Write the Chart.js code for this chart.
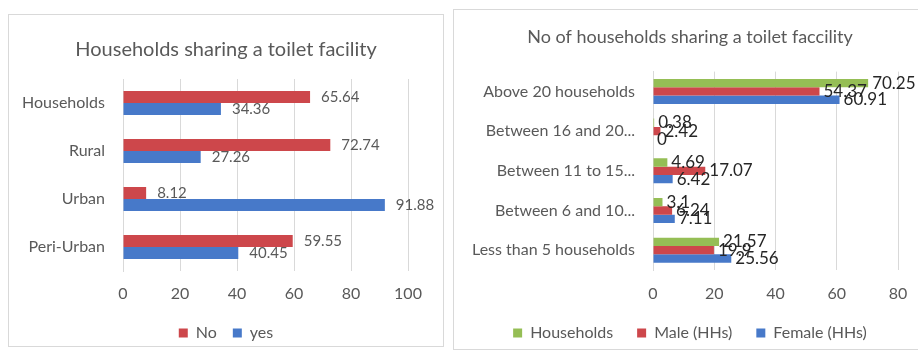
<!DOCTYPE html>
<html>
<head>
<meta charset="utf-8">
<script src="https://cdn.jsdelivr.net/npm/chart.js@4.4.1/dist/chart.umd.min.js"></script>
<style>
  body { margin: 0; background: #fff; width: 918px; height: 357px; overflow: hidden; position: relative; }
  .frame { position: absolute; border: 1px solid #d9d9d9; box-sizing: border-box; }
  canvas { position: absolute; }
  #frameLeft { left: 8px; top: 14px; width: 436px; height: 333px; }
  #frameRight { left: 453px; top: 9px; width: 472px; height: 341px; }
  #sharingChart { left: 8px; top: 14px; }
  #sizeChart { left: 453px; top: 9px; }
</style>
</head>
<body>
<div class="frame" id="frameLeft"></div>
<div class="frame" id="frameRight"></div>
<canvas id="sharingChart" width="436" height="337"></canvas>
<canvas id="sizeChart" width="474" height="342"></canvas>

<script>
// --- households sharing a toilet (%) ---
const sharingCategories = ['Households', 'Rural', 'Urban', 'Peri-Urban'];
const sharingNo = [65.64, 72.74, 8.12, 59.55];
const sharingYes = [34.36, 27.26, 91.88, 40.45];
const sharingTicks = [0, 20, 40, 60, 80, 100];

// --- number of households sharing one toilet ---
const sizeCategories = ['Above 20 households', 'Between 16 and 20...', 'Between 11 to 15...', 'Between 6 and 10...', 'Less than 5 households'];
const sizeHouseholds = [70.25, 0.38, 4.69, 3.1, 21.57];
const sizeMale = [54.37, 2.42, 17.07, 6.24, 19.9];
const sizeFemale = [60.91, 0, 6.42, 7.11, 25.56];
const sizeTicks = [0, 20, 40, 60, 80];

const RED = '#cd474b';
const BLUE = '#4779c9';
const GREEN = '#95be55';
const GREY = '#595959';
const GRID = '#d9d9d9';
const FONT = 'Lato, "Open Sans", sans-serif';

// prints each bar's value just past its end
const barValueLabels = {
  id: 'barValueLabels',
  afterDatasetsDraw(chart, args, opts) {
    const ctx = chart.ctx;
    ctx.save();
    ctx.font = opts.font;
    ctx.fillStyle = opts.color;
    ctx.textBaseline = 'middle';
    ctx.textAlign = 'left';
    chart.data.datasets.forEach((ds, i) => {
      const meta = chart.getDatasetMeta(i);
      meta.data.forEach((bar, j) => {
        ctx.fillText(String(ds.data[j]), bar.x + opts.offset, bar.y);
      });
    });
    ctx.restore();
  }
};

const fixedWidth = w => scale => { scale.width = w; };
const fixedHeight = h => scale => { scale.height = h; };

// empty axis on the right: keeps room for the end labels
// while title and legend stay centred on the whole box
const spacerAxis = w => ({
  position: 'right',
  type: 'category',
  afterFit: fixedWidth(w),
  grid: { display: false, drawTicks: false },
  border: { display: false },
  ticks: { display: false }
});

new Chart(document.getElementById('sharingChart'), {
  type: 'bar',
  data: {
    labels: sharingCategories,
    datasets: [
      { label: 'No', data: sharingNo, backgroundColor: RED },
      { label: 'yes', data: sharingYes, backgroundColor: BLUE }
    ]
  },
  plugins: [barValueLabels],
  options: {
    indexAxis: 'y',
    responsive: false,
    animation: false,
    categoryPercentage: 0.5,
    barPercentage: 1,
    layout: { padding: 0 },
    plugins: {
      title: {
        display: true,
        text: 'Households sharing a toilet facility',
        color: GREY,
        font: { family: FONT, size: 20, weight: 'normal' },
        padding: { top: 24, bottom: 17 }
      },
      legend: {
        position: 'bottom',
        labels: { color: GREY, font: { family: FONT, size: 16 }, boxWidth: 9, boxHeight: 9, padding: 16 }
      },
      tooltip: { enabled: false },
      barValueLabels: { font: '15px ' + FONT, color: GREY, offset: 11 }
    },
    scales: {
      x: {
        min: 0,
        max: 100,
        afterBuildTicks: axis => { axis.ticks = sharingTicks.map(v => ({ value: v })); },
        afterFit: fixedHeight(38),
        grid: { color: GRID, drawTicks: false },
        border: { display: false },
        ticks: { color: GREY, font: { family: FONT, size: 16 }, padding: 13 }
      },
      y: {
        afterFit: fixedWidth(115),
        grid: { display: false, drawTicks: false },
        border: { color: GRID },
        ticks: { color: GREY, font: { family: FONT, size: 16 }, padding: 18 }
      },
      spacer: spacerAxis(36)
    }
  }
});

new Chart(document.getElementById('sizeChart'), {
  type: 'bar',
  data: {
    labels: sizeCategories,
    datasets: [
      { label: 'Households', data: sizeHouseholds, backgroundColor: GREEN },
      { label: 'Male (HHs)', data: sizeMale, backgroundColor: RED },
      { label: 'Female (HHs)', data: sizeFemale, backgroundColor: BLUE }
    ]
  },
  plugins: [barValueLabels],
  options: {
    indexAxis: 'y',
    responsive: false,
    animation: false,
    categoryPercentage: 0.63,
    barPercentage: 1,
    layout: { padding: 0 },
    plugins: {
      title: {
        display: true,
        text: 'No of households sharing a toilet faccility',
        color: GREY,
        font: { family: FONT, size: 18, weight: 'normal' },
        padding: { top: 17, bottom: 24 }
      },
      legend: {
        position: 'bottom',
        labels: { color: GREY, font: { family: FONT, size: 16 }, boxWidth: 9, boxHeight: 9, padding: 24 }
      },
      tooltip: { enabled: false },
      barValueLabels: { font: '17px ' + FONT, color: '#262626', offset: 4 }
    },
    scales: {
      x: {
        min: 0,
        max: 80,
        afterBuildTicks: axis => { axis.ticks = sizeTicks.map(v => ({ value: v })); },
        afterFit: fixedHeight(31),
        grid: { color: GRID, drawTicks: false },
        border: { display: false },
        ticks: { color: GREY, font: { family: FONT, size: 16 }, padding: 14 }
      },
      y: {
        afterFit: fixedWidth(200),
        grid: { display: false, drawTicks: false },
        border: { color: GRID },
        ticks: { color: GREY, font: { family: FONT, size: 16 }, padding: 18 }
      },
      spacer: spacerAxis(29)
    }
  }
});
</script>
</body>
</html>
